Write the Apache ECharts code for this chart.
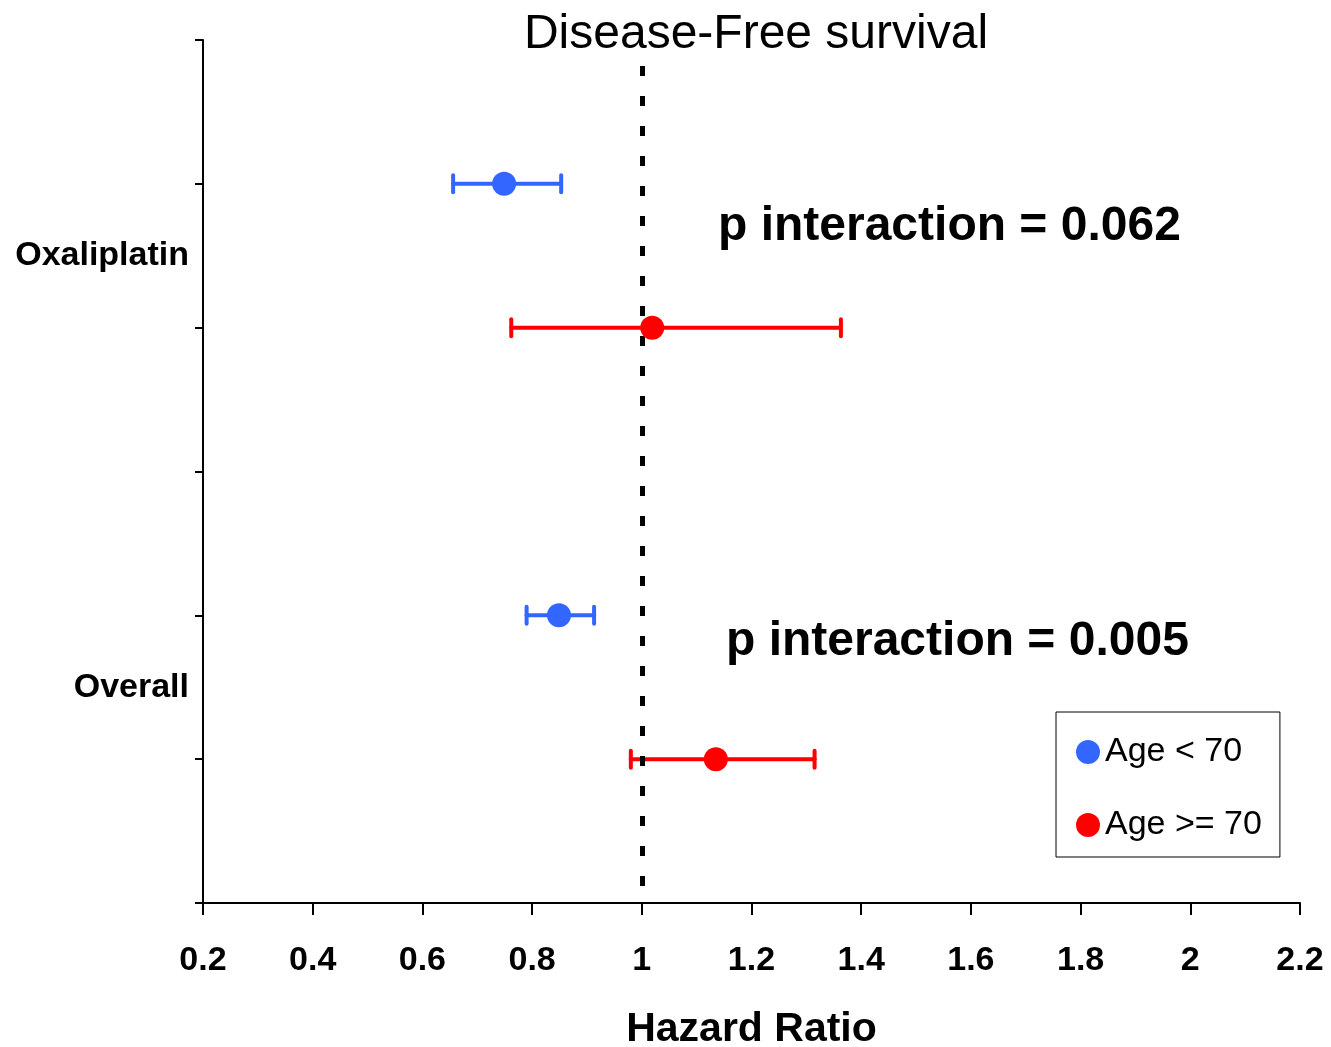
<!DOCTYPE html>
<html>
<head>
<meta charset="utf-8">
<script src="https://cdn.jsdelivr.net/npm/echarts@6/dist/echarts.min.js"></script>
<style>
html,body{margin:0;padding:0;background:#fff;}
#chart{width:1331px;height:1047px;}
</style>
</head>
<body>
<div id="chart"></div>
<script>
// ---- data ----
var categories = ['Oxaliplatin', 'Overall'];
var categoryPos = [4.5, 1.5];
var seriesNames = ['Age < 70', 'Age >= 70'];
var rowsYoung = [5, 2];
var hrYoung = [0.749, 0.849];
var loYoung = [0.656, 0.790];
var hiYoung = [0.853, 0.913];
var rowsOld = [4, 1];
var hrOld = [1.019, 1.135];
var loOld = [0.762, 0.980];
var hiOld = [1.363, 1.315];
var xTicks = [0.2, 0.4, 0.6, 0.8, 1, 1.2, 1.4, 1.6, 1.8, 2, 2.2];
var pTexts = ['p interaction = 0.062', 'p interaction = 0.005'];
var refValue = 1;

var BLUE = '#3366FF', RED = '#FF0000';
var FONT = '"Liberation Sans", Arial, sans-serif';

function zip(xs, ys) { return xs.map(function (x, i) { return [x, ys[i]]; }); }
function ciData(lo, hi, rows) { return lo.map(function (l, i) { return [l, hi[i], rows[i]]; }); }

function errRender(color) {
  return function (params, api) {
    var p1 = api.coord([api.value(0), api.value(2)]);
    var p2 = api.coord([api.value(1), api.value(2)]);
    var h = 8.5;
    var st = { stroke: color, lineWidth: 4, lineCap: 'round' };
    return {
      type: 'group',
      children: [
        { type: 'line', shape: { x1: p1[0], y1: p1[1], x2: p2[0], y2: p2[1] }, style: st },
        { type: 'line', shape: { x1: p1[0], y1: p1[1] - h, x2: p1[0], y2: p1[1] + h }, style: st },
        { type: 'line', shape: { x1: p2[0], y1: p2[1] - h, x2: p2[0], y2: p2[1] + h }, style: st }
      ]
    };
  };
}

var chart = echarts.init(document.getElementById('chart'), null, { renderer: 'canvas' });
var option = {
  backgroundColor: '#fff',
  animation: false,
  title: {
    text: 'Disease-Free survival',
    left: 751, textAlign: 'center', top: 6,
    textStyle: { fontFamily: FONT, fontSize: 48, fontWeight: 'normal', color: '#000' }
  },
  grid: { left: 203, right: 31, top: 40, bottom: 144, containLabel: false, outerBoundsMode: 'none' },
  xAxis: {
    type: 'value', min: 0.2, max: 2.2, interval: 0.2,
    name: 'Hazard Ratio', nameLocation: 'middle', nameGap: 106,
    nameTextStyle: { fontFamily: FONT, fontSize: 41, fontWeight: 'bold', color: '#000' },
    axisLine: { show: true, lineStyle: { color: '#000', width: 2 } },
    axisTick: { show: true, length: 12, lineStyle: { color: '#000', width: 2 } },
    splitLine: { show: false },
    axisLabel: {
      margin: 41, fontFamily: FONT, fontSize: 34, fontWeight: 'bold', color: '#000',
      formatter: function (v) { return String(parseFloat(v.toFixed(1))); }
    }
  },
  yAxis: [{
    type: 'value', min: 0, max: 6, interval: 1, position: 'left',
    axisLine: { show: true, lineStyle: { color: '#000', width: 2 } },
    axisTick: { show: true, length: 8, lineStyle: { color: '#000', width: 2 } },
    splitLine: { show: false },
    axisLabel: { show: false }
  }, {
    type: 'value', min: 0, max: 6, interval: 1.5, position: 'left',
    axisLine: { show: false }, axisTick: { show: false }, splitLine: { show: false },
    axisLabel: {
      margin: 14, fontFamily: FONT, fontSize: 34, fontWeight: 'bold', color: '#000',
      formatter: function (v) {
        var i = categoryPos.indexOf(v);
        return i >= 0 ? categories[i] : '';
      }
    }
  }],
  legend: {
    orient: 'vertical', left: 1056, top: 712,
    data: seriesNames,
    icon: 'circle', itemWidth: 24, itemHeight: 24, itemGap: 39, itemTextGap: 8,
    padding: [23, 18, 15, 20],
    borderColor: '#000', borderWidth: 1, backgroundColor: '#fff',
    textStyle: { fontFamily: FONT, fontSize: 34, color: '#000', lineHeight: 34 }
  },
  graphic: [
    { type: 'text', left: 718, top: 203, z: 10,
      style: { text: pTexts[0], font: 'bold 48px ' + FONT, fill: '#000' } },
    { type: 'text', left: 726, top: 618, z: 10,
      style: { text: pTexts[1], font: 'bold 48px ' + FONT, fill: '#000' } }
  ],
  series: [
    {
      type: 'line', data: [], silent: true, z: 1,
      markLine: {
        silent: true, symbol: ['none', 'none'], label: { show: false },
        lineStyle: { color: '#000', width: 5, type: [10, 20] },
        data: [[{ coord: [refValue, 5.82] }, { coord: [refValue, 0] }]]
      }
    },
    { type: 'custom', name: 'ciYoung', renderItem: errRender(BLUE), data: ciData(loYoung, hiYoung, rowsYoung), z: 3,
      encode: { x: [0, 1], y: 2 }, silent: true },
    { type: 'custom', name: 'ciOld', renderItem: errRender(RED), data: ciData(loOld, hiOld, rowsOld), z: 3,
      encode: { x: [0, 1], y: 2 }, silent: true },
    { type: 'scatter', name: seriesNames[0], data: zip(hrYoung, rowsYoung), symbolSize: 24,
      itemStyle: { color: BLUE, opacity: 1 }, z: 5 },
    { type: 'scatter', name: seriesNames[1], data: zip(hrOld, rowsOld), symbolSize: 24,
      itemStyle: { color: RED, opacity: 1 }, z: 5 }
  ]
};
chart.setOption(option);
</script>
</body>
</html>
